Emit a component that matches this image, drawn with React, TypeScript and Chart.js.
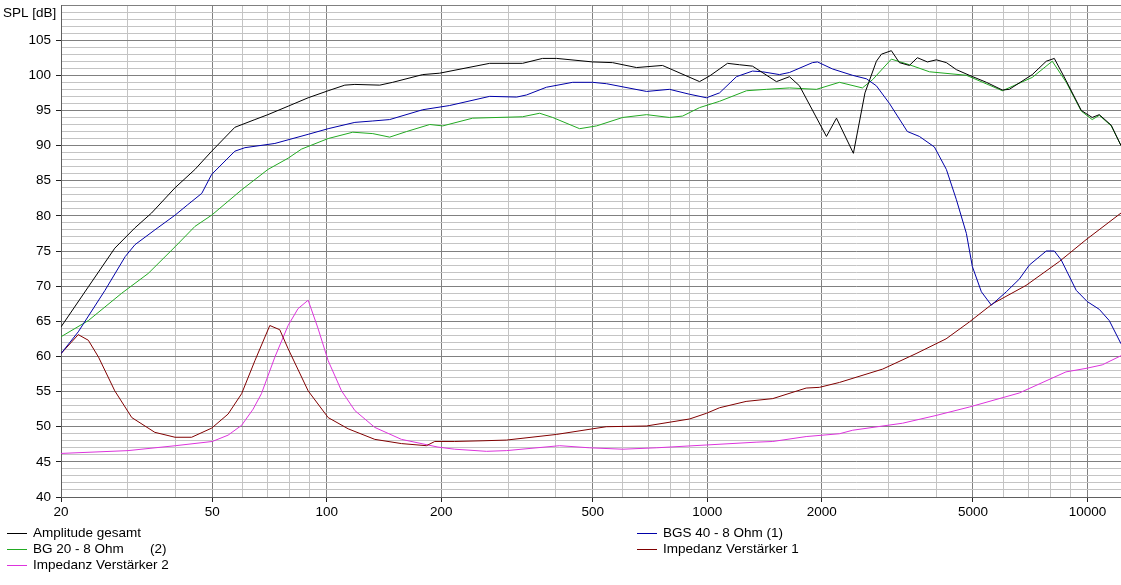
import React, { useEffect, useRef } from "react";
import { Chart, registerables } from "chart.js";

Chart.register(...registerables);

// ---- Data ----
const seriesLabels = [
  "Amplitude gesamt",
  "BGS 40 - 8 Ohm (1)",
  "BG 20 - 8 Ohm       (2)",
  "Impedanz Verstärker 1",
  "Impedanz Verstärker 2",
];
const seriesColors = ["#000000", "#0000a8", "#22aa22", "#800000", "#dd33dd"];

const ampFreq = [20, 23.6, 27.7, 31.3, 34.6, 39.9, 45, 49.8, 57.3, 64.7, 70, 79.1, 89.3, 100.8, 111.5, 118.5, 137.8, 149, 178.7, 198, 268, 327, 369, 402, 500, 564, 652, 763, 955, 1015, 1131, 1216, 1316, 1521, 1646, 1749, 2059, 2188, 2424, 2600, 2786, 2872, 3050, 3202, 3402, 3570, 3794, 4006, 4256, 4522, 4890, 5422, 5974, 6230, 7160, 7792, 8180, 8794, 9632, 10290, 10740, 11546, 12250];
const ampDb = [64.2, 69.9, 75.4, 78.3, 80.4, 84.0, 86.6, 89.2, 92.6, 93.7, 94.4, 95.6, 96.8, 97.8, 98.6, 98.7, 98.6, 99.0, 100.1, 100.3, 101.7, 101.7, 102.4, 102.4, 101.9, 101.8, 101.1, 101.4, 99.1, 99.9, 101.7, 101.5, 101.3, 99.1, 99.8, 98.5, 91.3, 93.9, 88.9, 97.5, 102.0, 103.0, 103.5, 101.8, 101.4, 102.5, 101.9, 102.2, 101.8, 100.8, 100.0, 99.0, 97.9, 98.0, 100.1, 102.0, 102.4, 99.2, 95.0, 94.0, 94.4, 92.9, 90.0];

const bgsFreq = [20, 22.2, 26.1, 29.5, 31.3, 35.3, 39.9, 43.1, 46.9, 49.8, 57.3, 60.9, 73, 89.3, 100.8, 118.5, 132.1, 146.3, 178.7, 210.4, 268, 315.6, 335, 378, 443, 500, 544, 693, 796, 899, 996, 1078, 1194, 1316, 1398, 1549, 1646, 1892, 1950, 2136, 2410, 2623, 2786, 3014, 3360, 3614, 3958, 4256, 4522, 4804, 4980, 5260, 5588, 6118, 6618, 7032, 7792, 8180, 8534, 9342, 9988, 10740, 11410, 12250];
const bgsDb = [60.4, 63.5, 69.4, 74.2, 75.9, 78.0, 80.1, 81.6, 83.2, 85.9, 89.2, 89.7, 90.3, 91.6, 92.4, 93.3, 93.5, 93.7, 95.1, 95.7, 97.0, 96.9, 97.2, 98.3, 99.0, 99.0, 98.8, 97.7, 98.0, 97.3, 96.8, 97.5, 99.8, 100.6, 100.5, 100.1, 100.4, 101.8, 101.9, 100.9, 100.0, 99.5, 98.5, 96.0, 92.0, 91.3, 89.8, 86.6, 82.3, 77.5, 72.8, 69.2, 67.3, 69.2, 71.0, 73.0, 75.0, 75.0, 73.7, 69.4, 67.8, 66.7, 65.1, 61.8];

const bgFreq = [20, 23.6, 28.9, 33.9, 39.9, 45, 49.8, 59.7, 70, 79.1, 85.8, 100.8, 117, 132.1, 146.3, 162.2, 186.5, 201.7, 241.8, 327, 362.7, 392.4, 462, 512, 599.6, 693, 796, 862, 955, 1078, 1269, 1432, 1646, 1938, 2228, 2560, 2725, 3050, 3402, 3840, 4804, 5974, 7160, 8080, 8794, 9632, 10290, 10740, 11546, 12250];
const bgDb = [62.8, 65.1, 69.0, 71.8, 75.6, 78.5, 80.1, 83.7, 86.6, 88.2, 89.5, 91.0, 91.9, 91.7, 91.2, 92.0, 93.0, 92.8, 93.9, 94.1, 94.6, 94.0, 92.4, 92.8, 94.0, 94.4, 94.0, 94.2, 95.4, 96.3, 97.8, 98.0, 98.2, 98.0, 99.0, 98.2, 99.4, 102.3, 101.5, 100.5, 100.0, 97.8, 99.7, 102.0, 99.0, 94.9, 93.7, 94.3, 92.8, 90.0];

const imp1Freq = [20, 22.2, 23.6, 25.1, 27.7, 30.7, 35.3, 39.9, 44.1, 49.8, 55, 59.7, 64.7, 70.8, 75.2, 79.1, 89.3, 100.8, 113.8, 133.7, 157.1, 182.8, 192.2, 216.9, 257.4, 296.6, 401.3, 499.8, 543, 691.8, 899, 994.6, 1078, 1266, 1488, 1821, 1973, 2228, 2894, 3542, 4248, 4890, 5632, 6892, 8432, 9910, 12250];
const imp1Db = [60.4, 63.1, 62.3, 59.9, 55.1, 51.3, 49.2, 48.5, 48.5, 49.8, 51.8, 54.7, 59.4, 64.4, 63.8, 61.1, 55.1, 51.3, 49.7, 48.2, 47.6, 47.3, 47.9, 47.9, 48.0, 48.1, 48.9, 49.7, 50.0, 50.1, 51.1, 51.9, 52.7, 53.6, 54.0, 55.5, 55.6, 56.3, 58.2, 60.4, 62.5, 64.9, 67.5, 70.1, 73.5, 76.6, 80.4];

const imp2Freq = [20, 30, 40, 50, 55, 59.7, 64, 67.3, 73, 79.1, 84, 89.3, 94.8, 100.8, 109.3, 118.5, 133.7, 157.1, 196, 216.9, 262.8, 296.6, 409.4, 490.8, 599.6, 735, 994.6, 1345, 1488, 1821, 2228, 2414, 3266, 3998, 4890, 6618, 8778, 9910, 10936, 12250];
const imp2Db = [46.2, 46.6, 47.3, 47.9, 48.8, 50.2, 52.5, 54.7, 59.9, 64.4, 66.8, 68.0, 64.0, 59.4, 55.1, 52.3, 49.9, 48.2, 47.1, 46.8, 46.5, 46.6, 47.3, 47.0, 46.8, 47.0, 47.4, 47.8, 47.9, 48.6, 49.0, 49.5, 50.5, 51.6, 52.8, 54.8, 57.8, 58.3, 58.8, 60.1];

const xTickValues = [20, 30, 40, 50, 60, 70, 80, 90, 100, 200, 300, 400, 500, 600, 700, 800, 900, 1000, 2000, 3000, 4000, 5000, 6000, 7000, 8000, 9000, 10000];
const xLabeled = [20, 50, 100, 200, 500, 1000, 2000, 5000, 10000];
const yMin = 40;
const yMax = 110;
const xMin = 20;
const xMax = 12250;
const yAxisTitle = "SPL [dB]";

const FONT = "'Liberation Sans', Arial, sans-serif";
const FONT_SIZE = 13.5;

const toPoints = (f: number[], v: number[]) => f.map((x, i) => ({ x, y: v[i] }));

const overlayPlugin = {
  id: "overlay",
  afterDraw(chart: any) {
    const ctx = chart.ctx;
    ctx.save();
    ctx.font = `${FONT_SIZE}px ${FONT}`;
    ctx.fillStyle = "#000";
    ctx.textBaseline = "middle";
    ctx.textAlign = "left";
    ctx.fillText(yAxisTitle, 3, 13);

    // legend: two columns
    const cols = [7, 637];
    const rows = [533, 549, 565];
    chart.data.datasets.forEach((ds: any, i: number) => {
      const col = cols[i % 2];
      const row = rows[Math.floor(i / 2)];
      ctx.strokeStyle = ds.borderColor;
      ctx.lineWidth = 1;
      ctx.beginPath();
      ctx.moveTo(col, row + 0.5);
      ctx.lineTo(col + 20, row + 0.5);
      ctx.stroke();
      ctx.fillStyle = "#000";
      ctx.fillText(ds.label, col + 26, row);
    });
    ctx.restore();
  },
};

export default function App() {
  const ref = useRef<HTMLCanvasElement | null>(null);

  useEffect(() => {
    if (!ref.current) return;
    const series = [
      [ampFreq, ampDb],
      [bgsFreq, bgsDb],
      [bgFreq, bgDb],
      [imp1Freq, imp1Db],
      [imp2Freq, imp2Db],
    ];
    const chart = new Chart(ref.current, {
      type: "line",
      data: {
        datasets: series.map(([f, v], i) => ({
          label: seriesLabels[i],
          data: toPoints(f, v),
          borderColor: seriesColors[i],
          backgroundColor: seriesColors[i],
          borderWidth: 1,
          pointRadius: 0,
          tension: 0,
          fill: false,
        })),
      },
      options: {
        animation: false,
        responsive: false,
        devicePixelRatio: 1,
        layout: { padding: { top: 5, right: 0, left: 0, bottom: 0 } },
        plugins: {
          legend: { display: false },
          tooltip: { enabled: false },
        },
        scales: {
          x: {
            type: "logarithmic",
            min: xMin,
            max: xMax,
            afterBuildTicks: (s: any) => {
              s.ticks = xTickValues.map((v) => ({ value: v }));
            },
            afterFit: (s: any) => {
              s.height = 88;
              s.paddingLeft = 0;
              s.paddingRight = 0;
            },
            ticks: {
              autoSkip: false,
              maxRotation: 0,
              minRotation: 0,
              padding: 2,
              color: "#000",
              font: { family: FONT, size: FONT_SIZE },
              callback: (v: any) => (xLabeled.includes(Number(v)) ? String(v) : ""),
            },
            grid: {
              color: (c: any) => (c.tick && xLabeled.includes(c.tick.value) ? "#808080" : "#c4c4c4"),
              tickColor: (c: any) => (c.tick && xLabeled.includes(c.tick.value) ? "#202020" : "rgba(0,0,0,0)"),
              tickLength: 5,
              lineWidth: 1,
            },
            border: { display: true, color: "#606060" },
          },
          y: {
            type: "linear",
            min: yMin,
            max: yMax,
            afterFit: (s: any) => {
              s.width = 61;
              s.paddingTop = 0;
              s.paddingBottom = 0;
            },
            ticks: {
              stepSize: 1,
              autoSkip: false,
              maxTicksLimit: 200,
              padding: 5,
              color: "#000",
              font: { family: FONT, size: FONT_SIZE },
              callback: (v: any) => (Number(v) % 5 === 0 && Number(v) < yMax ? String(v) : ""),
            },
            grid: {
              color: (c: any) => (c.tick && c.tick.value % 5 === 0 ? "#808080" : "#c4c4c4"),
              tickColor: (c: any) => (c.tick && c.tick.value % 5 === 0 && c.tick.value < yMax ? "#202020" : "rgba(0,0,0,0)"),
              tickLength: 5,
              lineWidth: 1,
            },
            border: { display: true, color: "#606060" },
          },
        },
      },
      plugins: [overlayPlugin],
    });
    return () => chart.destroy();
  }, []);

  return (
    <div style={{ position: "fixed", left: 0, top: 0, width: 1121, height: 585, background: "#fff" }}>
      <canvas ref={ref} width={1121} height={585} style={{ display: "block" }} />
    </div>
  );
}
